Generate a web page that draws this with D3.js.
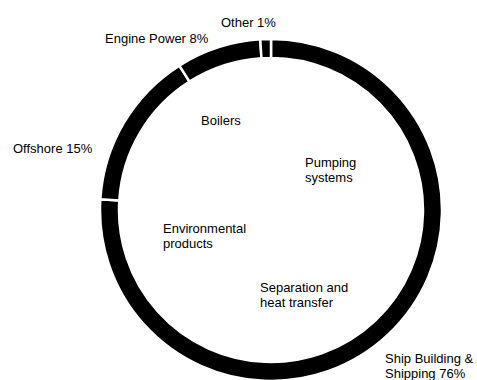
<!DOCTYPE html>
<html>
<head>
<meta charset="utf-8">
<script src="https://cdn.jsdelivr.net/npm/d3@7"></script>
<style>
  html, body { margin: 0; padding: 0; background: #fff; }
  svg { display: block; }
  text { font-family: "Liberation Sans", Arial, sans-serif; font-size: 13px; fill: #000; }
</style>
</head>
<body>
<svg id="chart" width="477" height="380"></svg>
<script>
// Data
const categories = ["Ship Building & Shipping", "Offshore", "Engine Power", "Other"];
const values = [76, 15, 8, 1];
const labelLines = [["Ship Building &", "Shipping 76%"], ["Offshore 15%"], ["Engine Power 8%"], ["Other 1%"]];
const productLabels = [["Boilers"], ["Pumping", "systems"], ["Environmental", "products"], ["Separation and", "heat transfer"]];

// Layout (positions only)
const W = 477, H = 380;
const cx = 271, cy = 210, rOuter = 171, rInner = 152;
const labelPos = [[385, 363], [13, 153], [105, 43], [221, 27]];
const productPos = [[201, 125], [305, 167], [163, 233], [260, 292]];
const lineH = 15;

const svg = d3.select("#chart");
const g = svg.append("g").attr("transform", `translate(${cx},${cy})`);

const pie = d3.pie().sort(null).value(d => d).startAngle(0).endAngle(2 * Math.PI);
const arc = d3.arc().innerRadius(rInner).outerRadius(rOuter);

g.selectAll("path.slice")
  .data(pie(values))
  .join("path")
  .attr("class", "slice")
  .attr("d", arc)
  .attr("fill", "#000")
  .attr("stroke", "#fff")
  .attr("stroke-width", 2.5);

function multiline(sel, lines, pos) {
  sel.selectAll(null)
    .data(lines.map((l, i) => ({ lines: l, pos: pos[i] })))
    .join("text")
    .attr("x", d => d.pos[0])
    .attr("y", d => d.pos[1])
    .each(function(d) {
      d3.select(this).selectAll("tspan")
        .data(d.lines)
        .join("tspan")
        .attr("x", d.pos[0])
        .attr("dy", (t, i) => i === 0 ? 0 : lineH)
        .text(t => t);
    });
}

multiline(svg.append("g"), labelLines, labelPos);
multiline(svg.append("g"), productLabels, productPos);
</script>
</body>
</html>
